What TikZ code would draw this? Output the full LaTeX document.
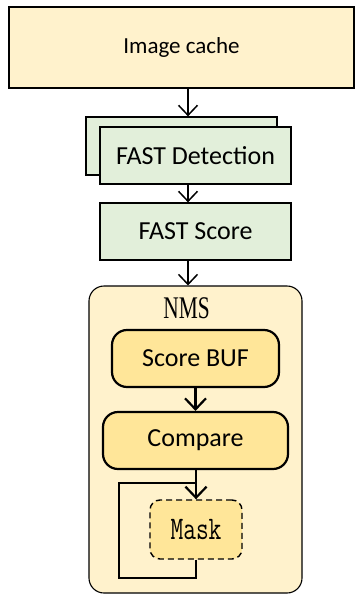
\documentclass[tikz,border=0pt]{standalone}
\usepackage{fontspec}
\usepackage{graphicx}
\setmainfont{Carlito}
\newfontfamily\nmsfont[FakeStretch=0.68]{Liberation Serif}
\usetikzlibrary{arrows.meta,calc}

\definecolor{cacheyellow}{HTML}{FFF2CC}
\definecolor{stagegreen}{HTML}{E2EFDA}
\definecolor{unityellow}{HTML}{FFE699}

\tikzset{
  box/.style={draw=black, line width=1.3pt, inner sep=0pt, font=\fontsize{26}{26}\selectfont},
  greenbox/.style={box, fill=stagegreen, minimum width=191pt, minimum height=57pt},
  unitbox/.style={box, fill=unityellow, line width=2.2pt, rounded corners=15pt, minimum height=57pt},
  arr/.style={line width=1.5pt, -{Straight Barb[length=10pt, width=19pt, line width=1.5pt]}},
  thickarr/.style={line width=2.2pt, -{Straight Barb[length=11pt, width=21pt, line width=2.2pt]}},
  loopline/.style={line width=2.2pt},
}

\begin{document}
\begin{tikzpicture}[x=1pt, y=-1pt]
  \useasboundingbox (0,0) rectangle (354,594);

  % input buffer
  \node[box, fill=cacheyellow, minimum width=345pt, minimum height=81pt,
        font=\fontsize{23}{23}\selectfont] (cache) at (181.5,47.5) {Image cache};

  % stacked detection stage
  \node[greenbox, minimum height=58pt] (detback) at (181.5,146) {};
  \node[greenbox] (det) at (195.5,155.5) {FAST Detection};

  \node[greenbox] (score) at (195.5,231.5) {FAST Score};

  % non-maximum suppression block
  \node[draw=black, line width=1.1pt, fill=cacheyellow, rounded corners=15pt,
        minimum width=213pt, minimum height=307pt, inner sep=0pt] (nms) at (195.5,439.5) {};
  \node[inner sep=0pt, font=\nmsfont\fontsize{31.5}{31.5}\selectfont] (nmslabel) at (186.5,308.5) {NMS};

  \node[unitbox, minimum width=167pt] (buf) at (195.5,358.5) {Score BUF};
  \node[unitbox, minimum width=185pt] (cmp) at (195.5,440.5) {Compare};
  \node[draw=black, fill=unityellow, line width=1.4pt, dash pattern=on 6pt off 4pt,
        rounded corners=10pt, minimum width=92pt, minimum height=59pt, inner sep=0pt,
        font=\ttfamily\fontsize{33}{33}\selectfont] (mask) at (196,529.5)
        {\scalebox{0.75}[1]{Mask}};

  % data flow
  \draw[arr] ([xshift=6.5pt]cache.south) -- ([xshift=6.5pt]detback.north);
  \draw[arr] ([xshift=-7.5pt]det.south) -- ([xshift=-7.5pt]score.north);
  \draw[arr] ([xshift=-7.5pt]score.south) -- ([xshift=-7.5pt]nms.north);
  \draw[thickarr] (buf.south) -- (cmp.north);
  \draw[thickarr] ([xshift=0.5pt]cmp.south) -- (mask.north);

  % feedback loop from the mask back into the compare path
  \coordinate (loopbl) at (119,578);
  \coordinate (looptl) at (119,483);
  \draw[loopline] (mask.south) |- (loopbl) -- (looptl) -- (looptl -| mask.north);
\end{tikzpicture}
\end{document}
